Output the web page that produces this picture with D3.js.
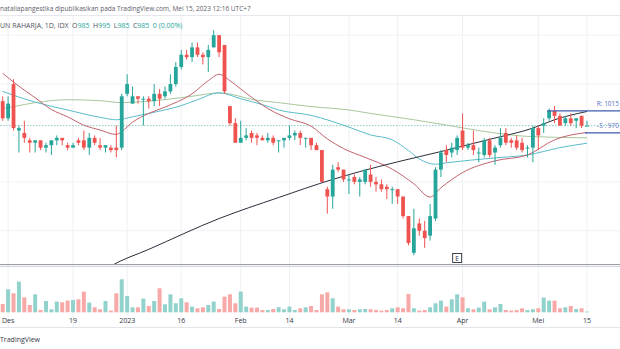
<!DOCTYPE html>
<html><head><meta charset="utf-8">
<script src="https://cdn.jsdelivr.net/npm/d3@7"></script>
<style>body{margin:0;background:#fff;overflow:hidden} svg{display:block}</style>
</head><body>
<svg id="c" width="620" height="349"></svg>
<script>
// ---- data (daily candles, Dec 2022 - May 15 2023) ----
const opens = [1035,1000,1070,975,970,955,950,955,940,945,
  955,960,945,940,955,955,940,960,945,940,
  940,940,940,1050,1030,1045,1040,1040,1035,1050,
  1045,1055,1070,1105,1130,1125,1145,1130,1125,1145,
  1170,1150,1025,990,950,960,970,965,960,955,
  960,955,955,960,965,970,960,960,945,935,
  855,840,900,895,875,880,870,870,885,870,
  865,860,855,855,840,800,725,785,770,760,
  795,895,935,930,935,975,940,945,930,925,
  955,930,945,970,955,955,950,940,940,980,
  985,1000,1015,1005,990,1000,995,1005,985];
const highs = [1045,1045,1080,985,995,960,955,955,950,955,
  965,960,950,950,960,975,970,965,960,945,
  945,985,1050,1090,1065,1045,1045,1045,1070,1060,
  1065,1090,1115,1140,1140,1155,1155,1135,1150,1180,
  1170,1150,1025,1000,995,980,975,970,965,970,
  965,955,960,985,975,975,960,960,950,935,
  860,905,910,895,885,885,880,895,905,880,
  875,865,860,855,840,800,815,795,790,825,
  900,935,945,950,965,1010,950,975,940,960,
  960,945,980,980,960,965,960,945,985,985,
  1000,1020,1025,1010,1005,1010,1000,1005,995];
const lows = [995,995,975,930,950,930,930,935,930,925,
  945,945,935,940,945,935,925,945,935,930,
  930,920,935,1045,1030,1030,985,1020,1025,1025,
  1040,1050,1065,1100,1120,1115,1125,1110,1095,1145,
  1125,1050,985,950,950,955,950,945,955,950,
  945,930,940,955,955,945,940,935,935,870,
  805,815,890,870,845,865,840,865,860,850,
  850,835,825,825,795,740,720,760,735,750,
  790,880,910,920,925,935,935,925,910,920,
  920,905,940,945,940,935,930,920,910,935,
  970,995,990,985,985,985,980,980,985];
const closes = [1000,1030,980,980,960,950,955,940,945,955,
  960,955,940,945,950,940,960,950,940,945,
  935,935,1045,1070,1045,1040,1040,1035,1050,1040,
  1055,1070,1105,1130,1125,1145,1130,1125,1140,1170,
  1135,1055,990,950,960,965,960,960,955,960,
  950,955,960,965,970,960,960,945,935,870,
  840,895,895,875,875,870,875,895,870,865,
  855,855,855,840,800,745,775,770,755,800,
  895,930,925,940,960,940,945,935,930,955,
  925,940,960,950,950,940,935,940,980,965,
  990,1015,1005,985,1000,990,1000,985,985];
const volumes = [83,230,190,307,150,73,180,23,113,30,
  107,100,117,123,130,207,97,50,30,113,
  17,190,330,163,50,50,137,63,113,240,
  80,180,90,140,100,57,40,50,73,107,
  33,157,180,90,207,57,47,47,23,23,
  33,50,30,57,23,40,50,63,23,180,
  200,140,57,30,30,23,30,33,30,23,
  17,23,40,50,40,183,40,17,23,50,
  90,117,57,130,180,150,40,30,47,107,
  30,50,83,23,17,23,40,23,30,40,
  147,117,117,40,50,63,33,40,7];

// x-axis tick labels and the candle index they sit on
const tickLabels = ["Des","19","2023","16","Feb","14","Mar","14","Apr","Mei","15"];
const tickIndex  = [1,13,23,33,44,53,64,73,85,99,108];

// moving averages (candle index, price)
const maRedIdx = [0,2,6,9,12,15,18,21,22,24,27,30,35,38,40,42,44,46,49,53,57,60,63,67,72,76,79,81,85,91,97,102,108];
const maRedVal = [1092,1074,1042,1018,1003,986,976,967,973,992,1010,1023,1050,1077,1090,1077,1060,1043,1020,999,984,958,938,920,896,866,839,858,889,913,925,956,971];
const maTealIdx = [0,6,12,18,21,24,27,33,36,40,44,48,51,57,64,68,72,75,77,80,82,91,97,103,108];
const maTealVal = [1055,1033,1017,1002,997,1003,1010,1026,1038,1052,1040,1028,1017,1006,982,966,956,934,917,906,909,919,925,940,949];
const maGreenIdx = [0,2,6,12,18,22,27,35,40,47,51,57,64,68,76,81,91,97,108];
const maGreenVal = [1020,1024,1032,1038,1036,1032,1035,1045,1052,1037,1032,1024,1017,1010,997,988,970,963,960];
const maBlackIdx = [18,20,27,40,51,61,66,73,81,90,98,102,108];
const maBlackVal = [684,698,732,795,838,875,891,911,932,957,980,997,1014];

const resistance = 1015, support = 970, lastPrice = 985;
const earningsIndex = 84;

// ---- drawing ----
const svg = d3.select("#c");
const n = closes.length;
const x = d3.scaleLinear().domain([0, n-1]).range([2.7, 587]);
const y = d3.scaleLinear().domain([700, 1200]).range([265, 20.5]);
const yv = d3.scaleLinear().domain([0, 330]).range([312.3, 279.3]);
const UP = "#26a69a", DN = "#ef5350";
const isUp = i => closes[i] >= opens[i];
const font = "'Open Sans', 'DejaVu Sans', sans-serif";

svg.append("rect").attr("width",620).attr("height",349).attr("fill","#fff");

// grid
const grid = svg.append("g");
grid.selectAll("line.v").data(tickIndex).join("line")
  .attr("x1",d=>x(d)).attr("x2",d=>x(d)).attr("y1",15).attr("y2",327)
  .attr("stroke","#eef0f5").attr("stroke-width",1);
const gridPrices = [1170,1070,870,770];
grid.selectAll("line.h").data(gridPrices).join("line")
  .attr("x1",0).attr("x2",620).attr("y1",d=>y(d)).attr("y2",d=>y(d))
  .attr("stroke","#f1f2f6").attr("stroke-width",1);

// header strip
svg.append("line").attr("x1",0).attr("x2",620).attr("y1",15.5).attr("y2",15.5).attr("stroke","#e6e8ee");
svg.append("text").attr("x",0).attr("y",11).attr("font-family",font).attr("font-size",6.5)
  .attr("fill","#5d606b").text("nataliapangestika dipublikasikan pada TradingView.com, Mei 15, 2023 12:16 UTC+7");

// main pane clip
svg.append("clipPath").attr("id","mp").append("rect").attr("x",0).attr("y",16).attr("width",620).attr("height",248);
const main = svg.append("g").attr("clip-path","url(#mp)");

// price line (dotted)
main.append("line").attr("x1",0).attr("x2",620).attr("y1",y(lastPrice)).attr("y2",y(lastPrice))
  .attr("stroke","#8cc9c3").attr("stroke-width",1).attr("stroke-dasharray","1.5,1.5");

// moving averages
const line = d3.line().x(d=>x(d[0])).y(d=>y(d[1])).curve(d3.curveMonotoneX);
const mas = [
  [maGreenIdx, maGreenVal, "#a8c79b"],
  [maTealIdx, maTealVal, "#5bbccb"],
  [maRedIdx, maRedVal, "#c2646d"],
  [maBlackIdx, maBlackVal, "#2a2e39"]
];
mas.forEach(([ix, vals, col]) => {
  main.append("path").attr("d", line(ix.map((d,k)=>[d, vals[k]])))
    .attr("fill","none").attr("stroke",col).attr("stroke-width",1);
});

// candles
const idx = d3.range(n);
main.selectAll("line.wick").data(idx).join("line")
  .attr("x1",i=>x(i)).attr("x2",i=>x(i))
  .attr("y1",i=>y(highs[i])).attr("y2",i=>y(lows[i]))
  .attr("stroke",i=>isUp(i)?UP:DN).attr("stroke-width",1);
main.selectAll("rect.body").data(idx).join("rect")
  .attr("x",i=>x(i)-1.9).attr("width",3.8)
  .attr("y",i=>y(Math.max(opens[i],closes[i])))
  .attr("height",i=>Math.max(1, Math.abs(y(opens[i])-y(closes[i]))))
  .attr("fill",i=>isUp(i)?UP:DN);

// resistance / support
const RS = "#3f5cae";
main.append("line").attr("x1",x(101)-2).attr("x2",620).attr("y1",y(resistance)).attr("y2",y(resistance))
  .attr("stroke",RS).attr("stroke-width",1.2);
main.append("line").attr("x1",x(108)-2).attr("x2",620).attr("y1",y(support)).attr("y2",y(support))
  .attr("stroke",RS).attr("stroke-width",1.2);
main.append("text").attr("x",619).attr("y",y(resistance)-4.5).attr("text-anchor","end")
  .attr("font-family",font).attr("font-size",6.5).attr("fill","#5a73bf").text("R: " + resistance);
main.append("text").attr("x",619).attr("y",y(lastPrice)+2.5).attr("text-anchor","end")
  .attr("font-family",font).attr("font-size",6.5).attr("fill","#5a73bf").text("-S : " + support);

// earnings marker
const ex = x(earningsIndex);
main.append("rect").attr("x",ex-4.5).attr("y",253.5).attr("width",9).attr("height",9)
  .attr("fill","#fff").attr("stroke","#2a2e39").attr("stroke-width",0.9);
main.append("text").attr("x",ex).attr("y",260.6).attr("text-anchor","middle").attr("font-family",font)
  .attr("font-size",6.5).attr("fill","#2a2e39").text("E");

// legend
const lg = svg.append("text").attr("x",0).attr("y",27.5).attr("font-family",font).attr("font-size",7);
lg.append("tspan").attr("fill","#50535e").text("UN RAHARJA, 1D, IDX");
const last = n-1;
[["O",opens[last]],["H",highs[last]],["L",lows[last]],["C",closes[last]]].forEach(([k,v])=>{
  lg.append("tspan").attr("dx",3.5).attr("fill","#50535e").text(k);
  lg.append("tspan").attr("fill",UP).text(v);
});
lg.append("tspan").attr("dx",3.5).attr("fill",UP).text((closes[last]-closes[last-1]) + " (0.00%)");

// pane separator
svg.append("line").attr("x1",0).attr("x2",620).attr("y1",264.5).attr("y2",264.5).attr("stroke","#9a9da6");
svg.append("line").attr("x1",0).attr("x2",620).attr("y1",266.3).attr("y2",266.3).attr("stroke","#c9ccd3");

// volume
svg.selectAll("rect.vol").data(idx).join("rect")
  .attr("x",i=>x(i)-2).attr("width",4)
  .attr("y",i=>yv(volumes[i])).attr("height",i=>yv(0)-yv(volumes[i]))
  .attr("fill",i=>isUp(i)?"#92d2cc":"#f7a9a7");

// x axis
svg.append("g").selectAll("text").data(tickIndex).join("text")
  .attr("x",d=>x(d)).attr("y",323.2).attr("text-anchor","middle")
  .attr("font-family",font).attr("font-size",7).attr("fill","#363a45")
  .text((d,k)=>tickLabels[k]);
svg.append("line").attr("x1",0).attr("x2",620).attr("y1",327.5).attr("y2",327.5).attr("stroke","#e3e5eb");
svg.append("text").attr("x",0).attr("y",341.5).attr("font-family",font).attr("font-size",7)
  .attr("fill","#363a45").text("TradingView");
</script>
</body></html>
